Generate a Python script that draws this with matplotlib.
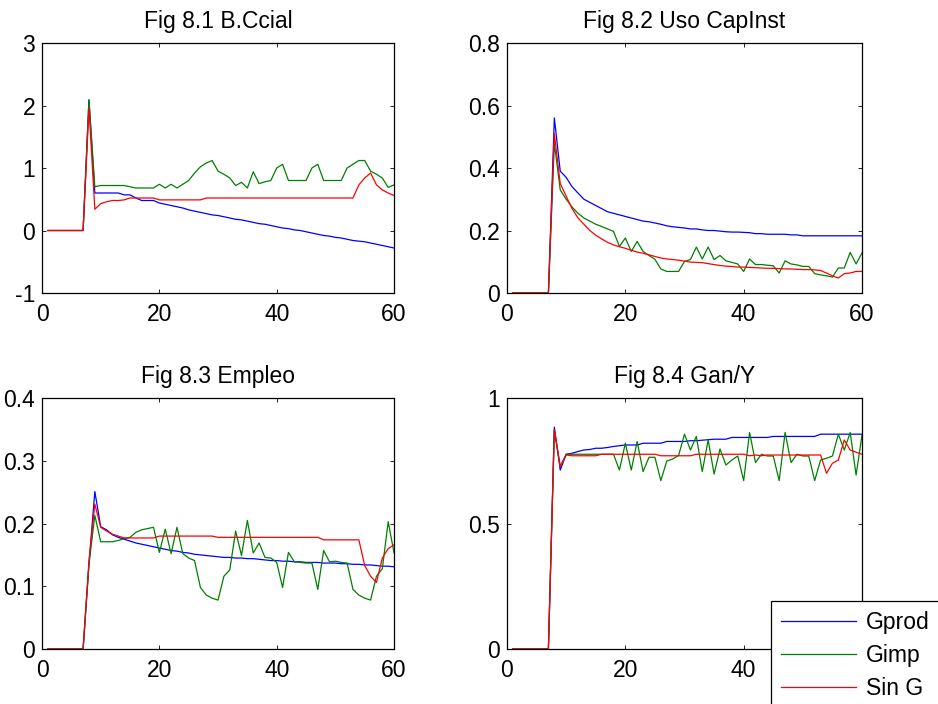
import numpy as np
import matplotlib
matplotlib.use("Agg")
import matplotlib.pyplot as plt
from matplotlib.ticker import FormatStrFormatter

plt.rcParams['font.family'] = ['Liberation Sans', 'DejaVu Sans']
plt.rcParams['font.size'] = 16

# time axis: periods 1..60
t = np.arange(1, 61)
Z7 = [0, 0, 0, 0, 0, 0, 0]

# Fig 8.1 B.Ccial
bc_gprod = Z7 + [2.09, 0.60, 0.60, 0.60, 0.60, 0.60, 0.57, 0.57, 0.52, 0.48,
                 0.48, 0.48, 0.44, 0.42, 0.40, 0.38, 0.36, 0.33, 0.31, 0.29,
                 0.27, 0.25, 0.24, 0.22, 0.20, 0.18, 0.17, 0.15, 0.13, 0.11,
                 0.10, 0.08, 0.06, 0.04, 0.03, 0.01, 0.00, -0.02, -0.04, -0.06,
                 -0.08, -0.09, -0.11, -0.12, -0.14, -0.16, -0.17, -0.18, -0.20, -0.22,
                 -0.24, -0.26, -0.28]
bc_gimp = Z7 + [2.09, 0.70, 0.72, 0.72, 0.72, 0.72, 0.72, 0.70, 0.68, 0.68,
                0.68, 0.68, 0.74, 0.68, 0.74, 0.68, 0.74, 0.80, 0.92, 1.02,
                1.08, 1.12, 0.95, 0.90, 0.84, 0.72, 0.77, 0.68, 0.94, 0.75,
                0.78, 0.80, 1.00, 1.06, 0.80, 0.80, 0.80, 0.80, 1.00, 1.06,
                0.80, 0.80, 0.80, 0.80, 1.00, 1.06, 1.12, 1.12, 0.95, 0.90,
                0.84, 0.69, 0.73]
bc_sing = Z7 + [1.96, 0.34, 0.43, 0.46, 0.48, 0.48, 0.49, 0.52, 0.52, 0.52,
                0.52, 0.52, 0.49, 0.49, 0.49, 0.49, 0.49, 0.49, 0.49, 0.49,
                0.52, 0.52, 0.52, 0.52, 0.52, 0.52, 0.52, 0.52, 0.52, 0.52,
                0.52, 0.52, 0.52, 0.52, 0.52, 0.52, 0.52, 0.52, 0.52, 0.52,
                0.52, 0.52, 0.52, 0.52, 0.52, 0.52, 0.73, 0.84, 0.92, 0.73,
                0.65, 0.60, 0.56]

# Fig 8.2 Uso CapInst
uc_gprod = Z7 + [0.56, 0.39, 0.37, 0.34, 0.32, 0.30, 0.29, 0.28, 0.27, 0.26,
                 0.255, 0.25, 0.245, 0.24, 0.235, 0.23, 0.228, 0.224, 0.22, 0.215,
                 0.212, 0.21, 0.208, 0.205, 0.205, 0.202, 0.20, 0.20, 0.198, 0.196,
                 0.195, 0.195, 0.194, 0.193, 0.19, 0.19, 0.188, 0.188, 0.188, 0.188,
                 0.186, 0.186, 0.183, 0.183, 0.183, 0.183, 0.183, 0.183, 0.183, 0.183,
                 0.183, 0.183, 0.183]
uc_gimp = Z7 + [0.48, 0.33, 0.30, 0.275, 0.255, 0.24, 0.23, 0.22, 0.213, 0.205,
                0.197, 0.149, 0.176, 0.133, 0.165, 0.133, 0.12, 0.108, 0.077, 0.069,
                0.069, 0.069, 0.101, 0.107, 0.147, 0.109, 0.147, 0.107, 0.12, 0.103,
                0.098, 0.093, 0.069, 0.109, 0.091, 0.091, 0.089, 0.087, 0.064, 0.103,
                0.093, 0.09, 0.085, 0.085, 0.062, 0.058, 0.055, 0.051, 0.08, 0.08,
                0.13, 0.093, 0.128]
uc_sing = Z7 + [0.51, 0.35, 0.31, 0.27, 0.24, 0.22, 0.20, 0.185, 0.173, 0.162,
                0.154, 0.148, 0.143, 0.137, 0.131, 0.127, 0.122, 0.117, 0.112, 0.109,
                0.107, 0.105, 0.102, 0.099, 0.098, 0.097, 0.094, 0.091, 0.088, 0.086,
                0.085, 0.083, 0.083, 0.082, 0.081, 0.08, 0.079, 0.079, 0.078, 0.077,
                0.077, 0.076, 0.075, 0.075, 0.074, 0.072, 0.064, 0.055, 0.048, 0.062,
                0.064, 0.069, 0.069]

# Fig 8.3 Empleo
em_gprod = Z7 + [0.135, 0.251, 0.195, 0.19, 0.182, 0.178, 0.175, 0.172, 0.169, 0.167,
                 0.165, 0.163, 0.161, 0.159, 0.157, 0.156, 0.154, 0.153, 0.151, 0.150,
                 0.149, 0.148, 0.147, 0.146, 0.146, 0.145, 0.145, 0.144, 0.144, 0.143,
                 0.142, 0.141, 0.141, 0.140, 0.140, 0.139, 0.139, 0.138, 0.138, 0.138,
                 0.137, 0.137, 0.137, 0.136, 0.136, 0.135, 0.135, 0.134, 0.134, 0.133,
                 0.132, 0.132, 0.131]
em_gimp = Z7 + [0.135, 0.213, 0.171, 0.171, 0.171, 0.173, 0.176, 0.178, 0.186, 0.19,
                0.192, 0.194, 0.154, 0.191, 0.152, 0.194, 0.152, 0.145, 0.141, 0.098,
                0.086, 0.081, 0.078, 0.116, 0.126, 0.188, 0.149, 0.205, 0.153, 0.169,
                0.146, 0.145, 0.138, 0.098, 0.154, 0.139, 0.138, 0.137, 0.137, 0.095,
                0.157, 0.139, 0.14, 0.138, 0.137, 0.095, 0.086, 0.081, 0.078, 0.116,
                0.128, 0.203, 0.153]
em_sing = Z7 + [0.14, 0.231, 0.194, 0.188, 0.183, 0.180, 0.177, 0.177, 0.177, 0.177,
                0.177, 0.177, 0.18, 0.18, 0.18, 0.18, 0.18, 0.18, 0.18, 0.18,
                0.18, 0.18, 0.178, 0.178, 0.178, 0.178, 0.178, 0.178, 0.178, 0.178,
                0.178, 0.178, 0.178, 0.178, 0.178, 0.178, 0.178, 0.178, 0.178, 0.178,
                0.174, 0.174, 0.174, 0.174, 0.174, 0.174, 0.174, 0.133, 0.116, 0.106,
                0.145, 0.16, 0.166]

# Fig 8.4 Gan/Y
gy_gprod = Z7 + [0.884, 0.713, 0.776, 0.78, 0.787, 0.793, 0.795, 0.80, 0.80, 0.803,
                 0.807, 0.81, 0.813, 0.813, 0.813, 0.82, 0.82, 0.82, 0.82, 0.827,
                 0.827, 0.827, 0.827, 0.83, 0.83, 0.832, 0.834, 0.836, 0.836, 0.836,
                 0.843, 0.843, 0.843, 0.843, 0.843, 0.843, 0.843, 0.847, 0.847, 0.847,
                 0.847, 0.847, 0.847, 0.847, 0.847, 0.856, 0.856, 0.856, 0.856, 0.856,
                 0.856, 0.856, 0.856]
gy_gimp = Z7 + [0.873, 0.727, 0.776, 0.776, 0.776, 0.776, 0.776, 0.776, 0.776, 0.776,
                0.776, 0.713, 0.82, 0.713, 0.827, 0.707, 0.764, 0.764, 0.671, 0.749,
                0.757, 0.771, 0.856, 0.793, 0.847, 0.707, 0.833, 0.697, 0.797, 0.733,
                0.753, 0.769, 0.671, 0.863, 0.743, 0.776, 0.769, 0.769, 0.671, 0.863,
                0.743, 0.776, 0.769, 0.769, 0.671, 0.753, 0.76, 0.769, 0.856, 0.793,
                0.863, 0.693, 0.853]
gy_sing = Z7 + [0.873, 0.727, 0.773, 0.77, 0.77, 0.77, 0.77, 0.77, 0.776, 0.776,
                0.776, 0.776, 0.776, 0.776, 0.776, 0.776, 0.776, 0.776, 0.77, 0.77,
                0.77, 0.77, 0.77, 0.77, 0.776, 0.776, 0.776, 0.776, 0.776, 0.776,
                0.776, 0.776, 0.776, 0.77, 0.773, 0.77, 0.773, 0.773, 0.773, 0.773,
                0.773, 0.773, 0.773, 0.773, 0.773, 0.773, 0.70, 0.74, 0.753, 0.833,
                0.793, 0.784, 0.776]

titles = ["Fig 8.1 B.Ccial", "Fig 8.2 Uso CapInst", "Fig 8.3 Empleo", "Fig 8.4 Gan/Y"]
panels = [
    (bc_gprod, bc_gimp, bc_sing, (-1, 3), [-1, 0, 1, 2, 3]),
    (uc_gprod, uc_gimp, uc_sing, (0, 0.8), [0, 0.2, 0.4, 0.6, 0.8]),
    (em_gprod, em_gimp, em_sing, (0, 0.4), [0, 0.1, 0.2, 0.3, 0.4]),
    (gy_gprod, gy_gimp, gy_sing, (0, 1), [0, 0.5, 1]),
]
labels = ["Gprod", "Gimp", "Sin G"]
colors = ["#0000ff", "#008000", "#ff0000"]

# axes boxes in figure fraction (left, bottom, width, height)
boxes = [
    (0.0448, 0.5838, 0.3753, 0.3551),
    (0.5405, 0.5838, 0.3785, 0.3551),
    (0.0448, 0.0781, 0.3753, 0.3565),
    (0.5405, 0.0781, 0.3785, 0.3565),
]

fig = plt.figure(figsize=(9.38, 7.04), dpi=100)

handles = []
for i, (box, (g1, g2, g3, ylim, yticks)) in enumerate(zip(boxes, panels)):
    ax = fig.add_axes(box)
    lines = []
    for series, c, lab in zip((g1, g2, g3), colors, labels):
        ln, = ax.plot(t, series, color=c, lw=0.9, label=lab)
        lines.append(ln)
    if i == 0:
        handles = lines
    ax.set_xlim(0, 60)
    ax.set_ylim(*ylim)
    ax.set_xticks([0, 20, 40, 60])
    ax.set_yticks(yticks)
    ax.yaxis.set_major_formatter(FormatStrFormatter('%g'))
    ax.tick_params(direction='in', top=True, right=True, length=3,
                   width=0.6, labelsize=16.5)
    ax.tick_params(axis='x', pad=7)
    ax.tick_params(axis='y', pad=5)
    for s in ax.spines.values():
        s.set_linewidth(0.9)
    ax.set_title(titles[i], fontsize=16.5, pad=11)
    if i == 3:
        # the "60" label sits under the legend box in the original
        ax.set_xticks([0, 20, 40, 60], ["0", "20", "40", ""])

leg = fig.legend(handles=handles, labels=labels, loc='upper left',
                 bbox_to_anchor=(771 / 938, 1 - 601 / 704),
                 bbox_transform=fig.transFigure,
                 fancybox=False, framealpha=1, edgecolor='black',
                 fontsize=16.5, handlelength=3.25, handletextpad=0.45,
                 labelspacing=0.43, borderpad=0.45, borderaxespad=0)
leg.get_frame().set_linewidth(0.9)

fig.savefig("out.png", dpi=100)
